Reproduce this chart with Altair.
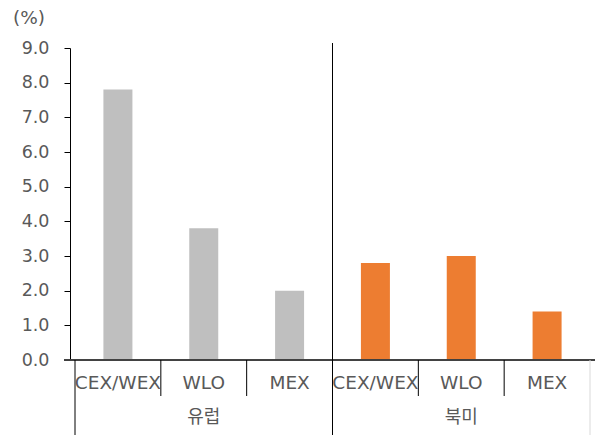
import altair as alt
import pandas as pd

groups = ["유럽", "유럽", "유럽", "북미", "북미", "북미"]
categories = ["CEX/WEX", "WLO", "MEX", "CEX/WEX", "WLO", "MEX"]
values = [7.8, 3.8, 2.0, 2.8, 3.0, 1.4]
group_names = ["유럽", "북미"]
colors = ["#BFBFBF", "#ED7D31"]

n = len(categories)
df = pd.DataFrame({
    "group": groups,
    "cat": categories,
    "value": values,
    "pos": [i + 0.5 for i in range(n)],
})

grp_df = pd.DataFrame({
    "group": group_names,
    "pos": [1.5, 4.5],
})

short_div = pd.DataFrame({"pos": [1, 2, 4, 5]})
long_div = pd.DataFrame({"pos": [0, 3]})
mid_div = pd.DataFrame({"pos": [3]})
end_div = pd.DataFrame({"pos": [6]})

W, H = 525, 312
FONT = "DejaVu Sans, Noto Sans CJK KR"
KFONT = "Noto Sans CJK KR"
GREY_TXT = "#595959"

xscale = alt.Scale(domain=[0, 6], nice=False, zero=False)
yscale = alt.Scale(domain=[0, 9], nice=False)

bars = alt.Chart(df).mark_bar(width=29).encode(
    x=alt.X("pos:Q", scale=xscale, axis=None),
    y=alt.Y("value:Q", scale=yscale,
            axis=alt.Axis(values=[0, 1, 2, 3, 4, 5, 6, 7, 8, 9], format=".1f",
                          title=None, grid=False, tickSize=6, tickColor="#000000",
                          domainColor="#000000", labelColor=GREY_TXT,
                          labelFontSize=17.5, labelFont=FONT, labelPadding=15)),
    color=alt.Color("group:N", scale=alt.Scale(domain=group_names, range=colors), legend=None),
)

baseline = alt.Chart(df).mark_rule(color="#404040", strokeWidth=1).encode(
    x=alt.value(-6), x2=alt.value(W), y=alt.value(H)
)

short_rules = alt.Chart(short_div).mark_rule(color="#000000", strokeWidth=1).encode(
    x=alt.X("pos:Q", scale=xscale), y=alt.value(H), y2=alt.value(H + 36)
)
long_rules = alt.Chart(long_div).mark_rule(color="#000000", strokeWidth=1).encode(
    x=alt.X("pos:Q", scale=xscale), y=alt.value(H), y2=alt.value(H + 75)
)
mid_rule = alt.Chart(mid_div).mark_rule(color="#000000", strokeWidth=1).encode(
    x=alt.X("pos:Q", scale=xscale), y=alt.value(-5), y2=alt.value(H)
)
end_rule = alt.Chart(end_div).mark_rule(color="#D9D9D9", strokeWidth=1).encode(
    x=alt.X("pos:Q", scale=xscale), y=alt.value(H), y2=alt.value(H + 75)
)

cat_text = alt.Chart(df).mark_text(fontSize=18.5, font=FONT, color=GREY_TXT, baseline="middle").encode(
    x=alt.X("pos:Q", scale=xscale), y=alt.value(H + 23), text="cat:N"
)
grp_text = alt.Chart(grp_df).mark_text(fontSize=18, font=KFONT, color=GREY_TXT, baseline="middle").encode(
    x=alt.X("pos:Q", scale=xscale), y=alt.value(H + 58), text="group:N"
)
unit_text = alt.Chart(grp_df.head(1)).mark_text(fontSize=18.5, font=FONT, color=GREY_TXT,
                                                 baseline="middle", align="left").encode(
    x=alt.value(-57), y=alt.value(-30), text=alt.value("(%)")
)

chart = alt.layer(
    bars, baseline, short_rules, long_rules, mid_rule, end_rule, cat_text, grp_text, unit_text
).properties(
    width=W, height=H,
    padding={"left": 70, "top": 48, "right": 0, "bottom": 75},
    autosize=alt.AutoSizeParams(type="none"),
).configure_view(stroke=None)

chart.save("out.html", embed_options={"renderer": "svg", "actions": False})
